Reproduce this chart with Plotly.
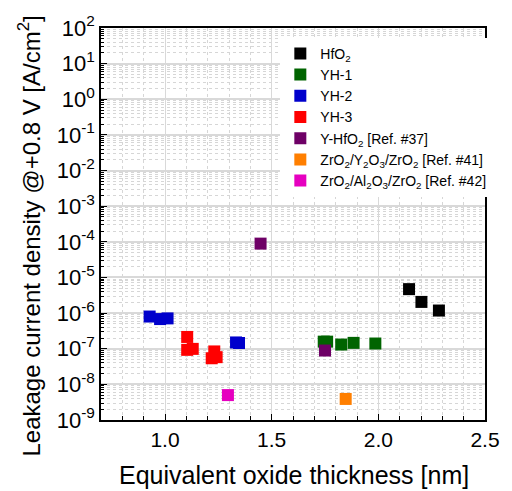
import plotly.graph_objects as go

# ---- data ----
hfo2_x = [2.144, 2.202, 2.284]
hfo2_y = [4.7e-6, 2.06e-6, 1.18e-6]
yh1_x = [1.744, 1.760, 1.826, 1.884, 1.986]
yh1_y = [1.58e-7, 1.58e-7, 1.31e-7, 1.46e-7, 1.40e-7]
yh2_x = [0.928, 0.977, 1.012, 1.333, 1.347]
yh2_y = [8.0e-7, 6.8e-7, 7.1e-7, 1.5e-7, 1.45e-7]
yh3_x = [1.104, 1.104, 1.130, 1.231, 1.219, 1.242]
yh3_y = [2.14e-7, 9.3e-8, 9.9e-8, 8.4e-8, 5.4e-8, 5.8e-8]
yhfo2_x = [1.448, 1.750]
yhfo2_y = [8.9e-5, 8.9e-8]
zyz_x = [1.847]
zyz_y = [3.9e-9]
zaz_x = [1.295]
zaz_y = [5.0e-9]

series = [
    ("HfO<sub>2</sub>", hfo2_x, hfo2_y, "#000000"),
    ("YH-1", yh1_x, yh1_y, "#006400"),
    ("YH-2", yh2_x, yh2_y, "#0000cc"),
    ("YH-3", yh3_x, yh3_y, "#ff0000"),
    ("Y-HfO<sub>2</sub> [Ref. #37]", yhfo2_x, yhfo2_y, "#6e0066"),
    ("ZrO<sub>2</sub>/Y<sub>2</sub>O<sub>3</sub>/ZrO<sub>2</sub> [Ref. #41]", zyz_x, zyz_y, "#ff7f00"),
    ("ZrO<sub>2</sub>/Al<sub>2</sub>O<sub>3</sub>/ZrO<sub>2</sub> [Ref. #42]", zaz_x, zaz_y, "#e600c0"),
]

x_title = "Equivalent oxide thickness [nm]"
y_title = "Leakage current density @+0.8 V [A/cm<sup>2</sup>]"

y_exps = list(range(-9, 3))
y_tickvals = [10.0 ** e for e in y_exps]
y_ticktext = ["10<sup>%d</sup>" % e for e in y_exps]
y_minor = [m * 10.0 ** e for e in range(-9, 2) for m in range(2, 10)]

fig = go.Figure()
for name, xs, ys, col in series:
    fig.add_trace(go.Scatter(
        x=xs, y=ys, mode="markers", name=name,
        marker=dict(symbol="square", size=12, color=col, line=dict(width=0)),
    ))

font = "Liberation Sans, Arial, sans-serif"
fig.update_layout(
    width=512, height=491,
    margin=dict(l=101, r=18, t=25, b=71),
    paper_bgcolor="white", plot_bgcolor="white",
    font=dict(family=font, color="black"),
    showlegend=True,
    legend=dict(x=0.467, y=0.975, xanchor="left", yanchor="top",
                bgcolor="white", borderwidth=0,
                font=dict(size=14, family=font), tracegroupgap=0),
    xaxis=dict(
        range=[0.7, 2.5], dtick=0.5, tick0=0, tickformat=".1f",
        showline=True, linecolor="black", linewidth=1.5, mirror=True,
        ticks="inside", ticklen=6, tickcolor="black",
        showgrid=True, gridcolor="#d9d9d9", gridwidth=1.2,
        zeroline=False,
        tickfont=dict(size=21, family=font),
        minor=dict(dtick=0.1, ticks="inside", ticklen=4, tickcolor="black",
                   showgrid=True, gridcolor="#d6d6d6", griddash="dot", gridwidth=1),
    ),
    yaxis=dict(
        type="log", range=[-9, 2],
        tickmode="array", tickvals=y_tickvals, ticktext=y_ticktext,
        showline=True, linecolor="black", linewidth=1.5, mirror=True,
        ticks="inside", ticklen=6, tickcolor="black",
        showgrid=True, gridcolor="#d9d9d9", gridwidth=1.5,
        zeroline=False,
        tickfont=dict(size=22, family=font),
        minor=dict(tickmode="array", tickvals=y_minor, ticks="inside", ticklen=3,
                   tickcolor="black", showgrid=True, gridcolor="#d6d6d6",
                   griddash="dot", gridwidth=1),
    ),
    annotations=[
        dict(text=x_title, xref="paper", yref="paper", x=0.5, y=0,
             xanchor="center", yanchor="middle", yshift=-55, xshift=1,
             showarrow=False, font=dict(size=25, family=font)),
        dict(text=y_title, xref="paper", yref="paper", x=0, y=0.468,
             xanchor="center", yanchor="middle", xshift=-72, textangle=-90,
             showarrow=False, font=dict(size=24, family=font)),
    ],
)

fig.write_html("out.html")
